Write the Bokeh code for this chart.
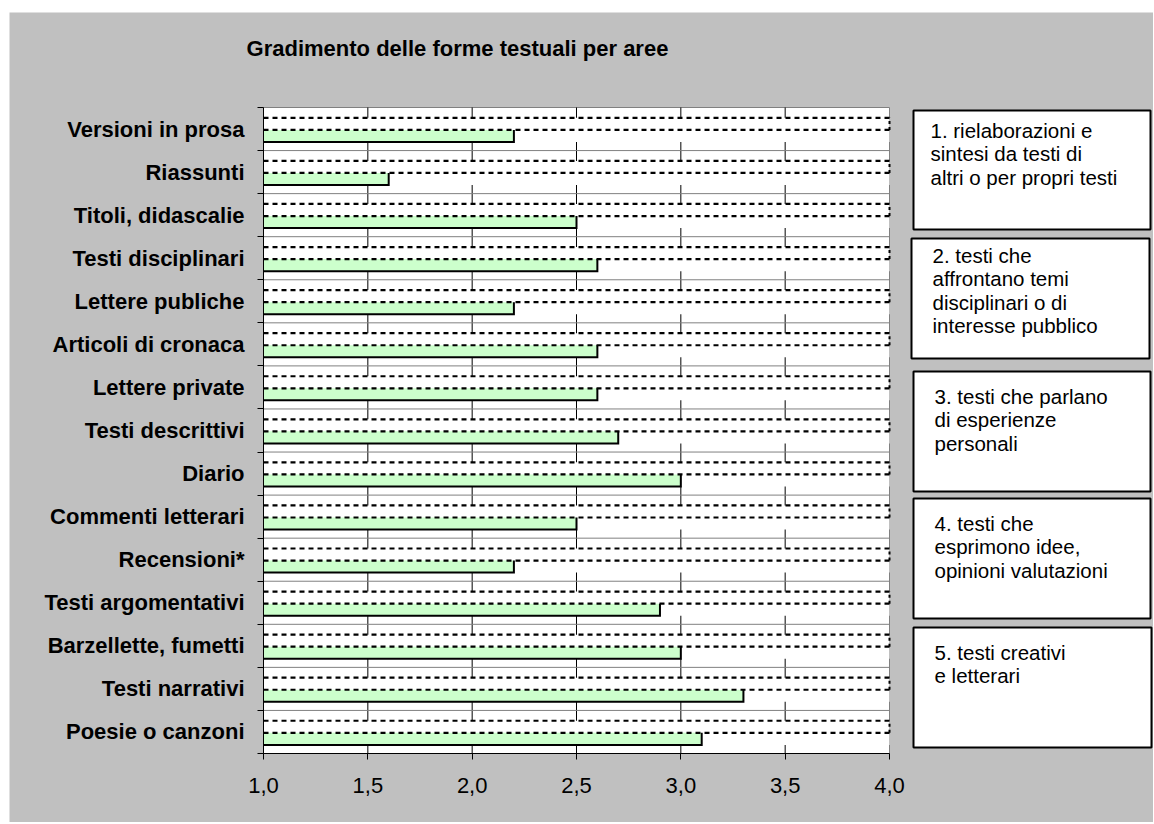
from bokeh.plotting import figure
from bokeh.layouts import row, column
from bokeh.models import Range1d, FixedTicker, CustomJSTickFormatter, Spacer
from bokeh.embed import file_html
from bokeh.resources import INLINE
from bokeh.core.properties import value

# ---------------- data ----------------
categories = ["Versioni in prosa", "Riassunti", "Titoli, didascalie", "Testi disciplinari",
              "Lettere publiche", "Articoli di cronaca", "Lettere private", "Testi descrittivi",
              "Diario", "Commenti letterari", "Recensioni*", "Testi argomentativi",
              "Barzellette, fumetti", "Testi narrativi", "Poesie o canzoni"]
scores = [2.2, 1.6, 2.5, 2.6, 2.2, 2.6, 2.6, 2.7, 3.0, 2.5, 2.2, 2.9, 3.0, 3.3, 3.1]
x_ticks = [1.0, 1.5, 2.0, 2.5, 3.0, 3.5, 4.0]
title_text = "Gradimento delle forme testuali per aree"
group_texts = [
    ["1. rielaborazioni e", "sintesi da testi di", "altri o per propri testi"],
    ["2. testi che", "affrontano temi", "disciplinari o di", "interesse pubblico"],
    ["3. testi che parlano", "di esperienze", "personali"],
    ["4. testi che", "esprimono idee,", "opinioni valutazioni"],
    ["5. testi creativi", "e letterari"],
]

# ---------------- layout / style (page pixels) ----------------
GRAY = "#C0C0C0"
GREEN = "#CCFFCC"
GRID_GRAY = "#808080"
FONT = "Liberation Sans"

PAGE_W, PAGE_H = 1153, 822
OFF_X, OFF_Y = 9, 12                 # white page strip left / top of the grey area
PLOT_L, PLOT_R = 263, 889            # value axis 1.0 .. 4.0
PLOT_T, PLOT_B = 107, 753            # category block

n = len(categories)
xmin, xmax = x_ticks[0], x_ticks[-1]
px_per_x = (PLOT_R - PLOT_L) / (xmax - xmin)
px_per_y = (PLOT_B - PLOT_T) / n

fig_w = PAGE_W - OFF_X
fig_h = PAGE_H - OFF_Y

centers = [n - 0.5 - i for i in range(n)]
band_top = [c + 0.26 for c in centers]
mid_line = [c - 0.02 for c in centers]
bar_bot = [c - 0.30 for c in centers]

# the frame fills the whole grey panel; axes are pinned at x = 1.0 and y = 0
p = figure(width=fig_w, height=fig_h,
           x_range=Range1d(xmin - (PLOT_L - OFF_X) / px_per_x,
                           xmin + (PAGE_W - PLOT_L) / px_per_x),
           y_range=Range1d(-(PAGE_H - PLOT_B) / px_per_y,
                           n + (PLOT_T - OFF_Y) / px_per_y),
           output_backend="svg", toolbar_location=None,
           min_border=0, min_border_left=0, min_border_right=0,
           min_border_top=0, min_border_bottom=0,
           background_fill_color=GRAY, border_fill_color=GRAY, outline_line_color=None)
p.grid.visible = False

# page-pixel coordinate system for the title and the side boxes
p.extra_x_ranges = {"px": Range1d(OFF_X, PAGE_W)}
p.extra_y_ranges = {"px": Range1d(PAGE_H, OFF_Y)}

# x axis
p.xaxis.fixed_location = 0
p.xaxis.bounds = (xmin, xmax)
p.xaxis.ticker = FixedTicker(ticks=x_ticks, minor_ticks=[])
p.xaxis.formatter = CustomJSTickFormatter(code="return tick.toFixed(1).replace('.', ',');")
p.xaxis.axis_line_color = "black"
p.xaxis.major_tick_line_color = "black"
p.xaxis.major_tick_out = 6
p.xaxis.major_tick_in = 0
p.xaxis.minor_tick_line_color = None
p.xaxis.major_label_text_font = FONT
p.xaxis.major_label_text_font_size = "22px"
p.xaxis.major_label_text_color = "black"
p.xaxis.major_label_standoff = 18

# y axis (drawn at x = 1.0): labels at category centres, tick marks at boundaries
p.yaxis.fixed_location = xmin
p.yaxis.bounds = (0, n)
p.yaxis.ticker = FixedTicker(ticks=centers, minor_ticks=list(range(n + 1)))
p.yaxis.formatter = CustomJSTickFormatter(
    args=dict(names=categories, n=n),
    code="const i = Math.round(n - 0.5 - tick); return (i >= 0 && i < names.length) ? names[i] : '';")
p.yaxis.axis_line_color = "black"
p.yaxis.major_tick_line_color = None
p.yaxis.major_tick_out = 0
p.yaxis.major_tick_in = 0
p.yaxis.minor_tick_line_color = "black"
p.yaxis.minor_tick_out = 6
p.yaxis.minor_tick_in = 0
p.yaxis.major_label_text_font = FONT
p.yaxis.major_label_text_font_style = "bold"
p.yaxis.major_label_text_font_size = "22px"
p.yaxis.major_label_text_color = "black"
p.yaxis.major_label_standoff = 13

# white plot area with grey outline
p.quad(left=xmin, right=xmax, bottom=0, top=n, fill_color="white",
       line_color=GRID_GRAY, line_width=1)

# grid lines
vx = x_ticks[1:-1]
p.segment(x0=vx, x1=vx, y0=0, y1=n, line_color="black", line_width=1)
hy = list(range(1, n))
p.segment(x0=xmin, x1=xmax, y0=hy, y1=hy, line_color=GRID_GRAY, line_width=1)

# white band behind each bar group
p.quad(left=xmin, right=xmax, bottom=bar_bot, top=band_top,
       fill_color="white", line_color=None)

# green bars
p.quad(left=xmin, right=scores, bottom=bar_bot, top=mid_line,
       fill_color=GREEN, line_color=None)
p.multi_line(xs=[[xmin, v, v] for v in scores],
             ys=[[b, b, t] for b, t in zip(bar_bot, mid_line)],
             line_color="black", line_width=2, line_join="miter")

# dotted lines
for ys in (band_top, mid_line):
    p.segment(x0=xmin, x1=xmax, y0=ys, y1=ys, line_color="black",
              line_width=2.2, line_dash="5 4")
p.segment(x0=xmax, x1=xmax, y0=mid_line, y1=band_top, line_color="black",
          line_width=2, line_dash="3 3")

# title
p.text(x=[457], y=[47.5], text=[title_text], x_range_name="px", y_range_name="px",
       text_font=value(FONT), text_font_style="bold", text_font_size="22px",
       text_color="black", text_align="center", text_baseline="middle")

# group boxes on the right
box_left = [913, 911, 913, 913, 913]
box_right = [1150, 1149, 1150, 1150, 1151]
box_top = [110, 238, 371, 498, 627]
box_bottom = [229, 358, 491, 618, 747]
text_x = [930, 932, 934, 934, 934]
first_off = [20, 17, 25, 25, 24.5]
LINE_H = 23.3

p.quad(left=box_left, right=box_right, top=box_top, bottom=box_bottom,
       x_range_name="px", y_range_name="px",
       fill_color="white", line_color="black", line_width=2)

tx, ty, tt = [], [], []
for b, lines in enumerate(group_texts):
    for k, line in enumerate(lines):
        tx.append(text_x[b])
        ty.append(box_top[b] + first_off[b] + k * LINE_H)
        tt.append(line)
p.text(x=tx, y=ty, text=tt, x_range_name="px", y_range_name="px",
       text_font=value(FONT), text_font_size="20.5px",
       text_color="black", text_align="left", text_baseline="middle")

layout = column(Spacer(height=OFF_Y), row(Spacer(width=OFF_X), p, spacing=0), spacing=0)
open("out.html", "w").write(file_html(layout, INLINE))
